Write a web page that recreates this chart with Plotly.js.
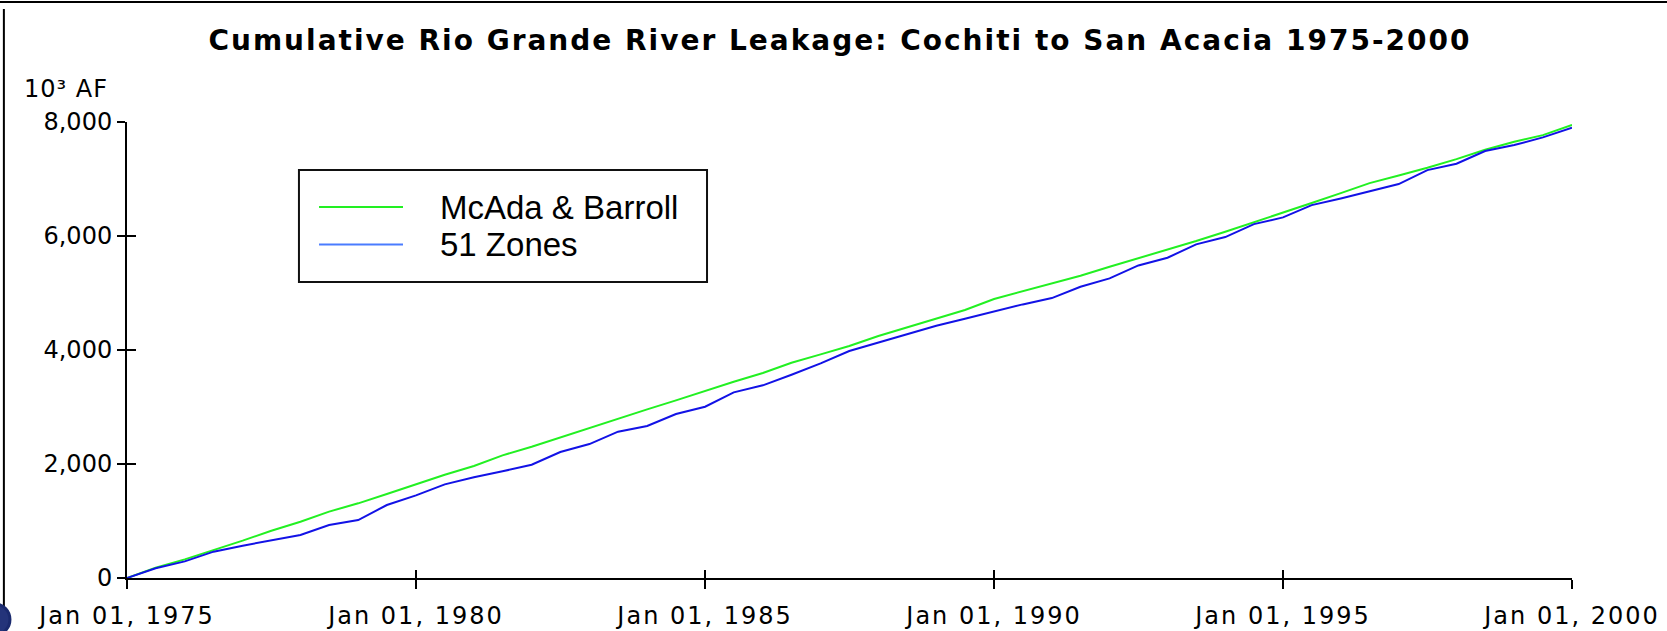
<!DOCTYPE html>
<html>
<head>
<meta charset="utf-8">
<script src="https://cdn.plot.ly/plotly-3.0.1.min.js"></script>
<style>
  html, body { margin: 0; padding: 0; background: #ffffff; }
  #chart { width: 1667px; height: 631px; }
  #chart .xtick text { letter-spacing: 2px; }
  #chart .gtitle { letter-spacing: 2px; }
  #chart .annotation[data-index="0"] text { letter-spacing: 1px; }
</style>
</head>
<body>
<div id="chart"></div>
<script>
// ---- data (10^3 acre-feet at half-year steps) ----
var dates = [
  "1975-01-01","1975-07-01","1976-01-01","1976-07-01","1977-01-01","1977-07-01",
  "1978-01-01","1978-07-01","1979-01-01","1979-07-01","1980-01-01","1980-07-01",
  "1981-01-01","1981-07-01","1982-01-01","1982-07-01","1983-01-01","1983-07-01",
  "1984-01-01","1984-07-01","1985-01-01","1985-07-01","1986-01-01","1986-07-01",
  "1987-01-01","1987-07-01","1988-01-01","1988-07-01","1989-01-01","1989-07-01",
  "1990-01-01","1990-07-01","1991-01-01","1991-07-01","1992-01-01","1992-07-01",
  "1993-01-01","1993-07-01","1994-01-01","1994-07-01","1995-01-01","1995-07-01",
  "1996-01-01","1996-07-01","1997-01-01","1997-07-01","1998-01-01","1998-07-01",
  "1999-01-01","1999-07-01","2000-01-01"
];
var mcadaBarroll = [
  0, 181, 327, 485, 655, 830, 988, 1164, 1310, 1473, 1645,
  1812, 1964, 2152, 2304, 2467, 2643, 2795, 2959, 3116, 3283,
  3444, 3596, 3777, 3923, 4069, 4245, 4397, 4549, 4701, 4895,
  5034, 5174, 5303, 5461, 5607, 5765, 5911, 6075, 6238, 6410,
  6578, 6753, 6928, 7063, 7197, 7349, 7513, 7653, 7770, 7950
];
var zones51 = [
  0, 170, 292, 462, 567, 661, 754, 930, 1017, 1280, 1450,
  1643, 1766, 1871, 1988, 2210, 2350, 2567, 2666, 2877, 3005,
  3257, 3380, 3566, 3766, 3982, 4128, 4285, 4426, 4549, 4680,
  4800, 4911, 5110, 5256, 5484, 5619, 5853, 5981, 6209, 6326,
  6542, 6659, 6788, 6911, 7156, 7267, 7490, 7595, 7730, 7899
];
var seriesNames = ["McAda & Barroll", "51 Zones"];
var yTickVals = [0, 2000, 4000, 6000, 8000];
var xRange = ["1975-01-01", "2000-01-01"];
var yRange = [0, 8000];
var titleText = "Cumulative Rio Grande River Leakage: Cochiti to San Acacia 1975-2000";
var unitText = "10³ AF";

// ---- styles ----
var GREEN = "#22f022", BLUE = "#1212e6", LEG_BLUE = "#4a7cff";
var tickFont = { family: "DejaVu Sans, Verdana, sans-serif", size: 24, color: "#000" };
var legFont = { family: "Liberation Sans, Arial, sans-serif", size: 33, color: "#000" };

var traces = [
  { x: dates, y: mcadaBarroll, name: seriesNames[0], type: "scatter", mode: "lines",
    line: { color: GREEN, width: 2 }, showlegend: false, hoverinfo: "x+y+name" },
  { x: dates, y: zones51, name: seriesNames[1], type: "scatter", mode: "lines",
    line: { color: BLUE, width: 2 }, showlegend: false, hoverinfo: "x+y+name" },
  // invisible helper traces carrying the inside-tick overlay axes
  { x: dates, y: zones51, xaxis: "x2", yaxis: "y", type: "scatter", mode: "lines",
    line: { width: 0, color: "rgba(0,0,0,0)" }, showlegend: false, hoverinfo: "skip" },
  { x: dates, y: zones51, xaxis: "x", yaxis: "y2", type: "scatter", mode: "lines",
    line: { width: 0, color: "rgba(0,0,0,0)" }, showlegend: false, hoverinfo: "skip" }
];

// legend geometry (paper coords)
var L = { x0: 0.119, x1: 0.4014, y0: 0.649, y1: 0.8947,
          lx0: 0.1329, lx1: 0.191, ty: [0.8135, 0.7315], tx: 0.2152 };

var layout = {
  width: 1667, height: 631,
  margin: { l: 127, r: 95, t: 122, b: 53, pad: 0 },
  paper_bgcolor: "#ffffff", plot_bgcolor: "#ffffff",
  showlegend: false,
  title: { text: "<b>" + titleText + "</b>", xref: "paper", x: 0.4934, xanchor: "center",
           yref: "container", y: 0.9366, yanchor: "middle",
           font: { family: "DejaVu Sans, Verdana, sans-serif", size: 28, color: "#000" } },
  xaxis: {
    type: "date", range: xRange, tick0: "1975-01-01", dtick: "M60",
    tickformat: "%b %d, %Y", tickfont: tickFont,
    showline: true, linecolor: "#000", linewidth: 2,
    ticks: "outside", ticklen: 9, tickwidth: 1.5, tickcolor: "#000",
    ticklabelstandoff: 6,
    showgrid: false, zeroline: false, fixedrange: true
  },
  yaxis: {
    range: yRange, tickvals: yTickVals, tickformat: ",d", tickfont: tickFont,
    showline: true, linecolor: "#000", linewidth: 2,
    ticks: "outside", ticklen: 8, tickwidth: 1.5, tickcolor: "#000",
    ticklabelstandoff: 0,
    showgrid: false, zeroline: false, fixedrange: true
  },
  xaxis2: {
    type: "date", range: xRange, tick0: "1975-01-01", dtick: "M60",
    overlaying: "x", anchor: "y", side: "bottom",
    ticks: "inside", ticklen: 8, tickwidth: 1.5, tickcolor: "#000",
    showticklabels: false, showline: false, showgrid: false, zeroline: false, fixedrange: true
  },
  yaxis2: {
    range: yRange, tickvals: yTickVals,
    overlaying: "y", anchor: "x", side: "left",
    ticks: "inside", ticklen: 9, tickwidth: 1.5, tickcolor: "#000",
    showticklabels: false, showline: false, showgrid: false, zeroline: false, fixedrange: true
  },
  shapes: [
    // slide frame lines
    { type: "line", xref: "paper", yref: "paper", x0: -0.09, x1: 1.07, y0: 1.2632, y1: 1.2632,
      line: { color: "#000", width: 2 } },
    { type: "line", xref: "paper", yref: "paper", x0: -0.0852, x1: -0.0852, y0: 1.248, y1: -0.12,
      line: { color: "#000", width: 2 } },
    // partial logo at the bottom-left corner
    { type: "circle", xref: "paper", yref: "paper", x0: -0.1017, x1: -0.0810, y0: -0.1250, y1: -0.0570,
      line: { color: "#1a2a6e", width: 3 }, fillcolor: "#24347a" },
    // legend box
    { type: "rect", xref: "paper", yref: "paper", x0: L.x0, x1: L.x1, y0: L.y0, y1: L.y1,
      line: { color: "#111", width: 2 }, fillcolor: "rgba(255,255,255,0)" },
    { type: "line", xref: "paper", yref: "paper", x0: L.lx0, x1: L.lx1, y0: L.ty[0], y1: L.ty[0],
      line: { color: GREEN, width: 2 } },
    { type: "line", xref: "paper", yref: "paper", x0: L.lx0, x1: L.lx1, y0: L.ty[1], y1: L.ty[1],
      line: { color: LEG_BLUE, width: 2 } }
  ],
  annotations: [
    { text: unitText, xref: "paper", yref: "paper", x: -0.0706, y: 1.0724,
      xanchor: "left", yanchor: "middle", showarrow: false, font: tickFont },
    { text: seriesNames[0], xref: "paper", yref: "paper", x: L.tx, y: L.ty[0],
      xanchor: "left", yanchor: "middle", showarrow: false, font: legFont },
    { text: seriesNames[1], xref: "paper", yref: "paper", x: L.tx, y: L.ty[1],
      xanchor: "left", yanchor: "middle", showarrow: false, font: legFont }
  ]
};

Plotly.newPlot("chart", traces, layout, { displayModeBar: false });
</script>
</body>
</html>
